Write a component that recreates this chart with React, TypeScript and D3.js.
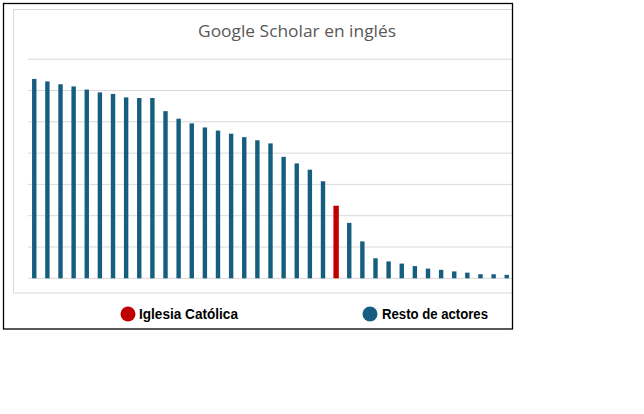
import React from "react";
import * as d3 from "d3";

const categories: string[] = Array.from({ length: 37 }, (_, i) => `Actor ${i + 1}`);
const values: number[] = [
  6.37, 6.29, 6.2, 6.13, 6.03, 5.94, 5.89, 5.78, 5.76, 5.76,
  5.34, 5.1, 4.95, 4.82, 4.72, 4.62, 4.51, 4.41, 4.31, 3.88,
  3.67, 3.47, 3.1, 2.32, 1.77, 1.18, 0.64, 0.54, 0.47, 0.39,
  0.31, 0.27, 0.22, 0.18, 0.13, 0.13, 0.11,
];
const highlightIndex = 23;
const yTicks: number[] = [0, 1, 2, 3, 4, 5, 6, 7];
const title = "Google Scholar en inglés";
const legendLabels: string[] = ["Iglesia Católica", "Resto de actores"];

const BLUE = "#165e80";
const RED = "#c00000";

export default function App() {
  const W = 644;
  const H = 414;
  const x = d3.scaleBand<string>().domain(categories).range([27.7, 513.3]).paddingInner(0.66).paddingOuter(0.33);
  const y = d3.scaleLinear().domain([0, 7]).range([278.3, 59.2]);

  return (
    <svg
      width={W}
      height={H}
      style={{ position: "absolute", left: 0, top: 0, background: "#fff" }}
    >
      <defs>
        <clipPath id="clip">
          <rect x={3} y={3} width={509} height={326} />
        </clipPath>
      </defs>
      <g clipPath="url(#clip)">
        <rect x={13.5} y={9.5} width={520} height={283.5} fill="#fff" stroke="#d9d9d9" strokeWidth={1} />
        {yTicks.map((t) => (
          <line key={t} x1={28} x2={520} y1={y(t)} y2={y(t)} stroke="#d9d9d9" strokeWidth={1} />
        ))}
        {values.map((v, i) => {
          const cx = (x(categories[i]) as number) + x.bandwidth() / 2;
          const isRed = i === highlightIndex;
          const w = isRed ? 5.4 : 4.4;
          return (
            <rect
              key={i}
              x={cx - w / 2}
              y={y(v)}
              width={w}
              height={y(0) - y(v)}
              fill={isRed ? RED : BLUE}
            />
          );
        })}
      </g>
      <text
        x={297}
        y={37}
        textAnchor="middle"
        fontFamily="'Open Sans', sans-serif"
        fontSize={17}
        fill="#595959"
        textLength={198}
        lengthAdjust="spacingAndGlyphs"
      >
        {title}
      </text>
      <g fontFamily="'Liberation Sans Narrow', 'Liberation Sans', sans-serif" fontWeight="bold" fontSize={14} fill="#000">
        <circle cx={128} cy={314} r={7.5} fill={RED} />
        <text x={139} y={319} textLength={99} lengthAdjust="spacingAndGlyphs">{legendLabels[0]}</text>
        <circle cx={370} cy={314} r={7.5} fill={BLUE} />
        <text x={382} y={319} textLength={106} lengthAdjust="spacingAndGlyphs">{legendLabels[1]}</text>
      </g>
      <rect x={3.5} y={3.5} width={509} height={325.5} fill="none" stroke="#000" strokeWidth={1.3} />
    </svg>
  );
}
